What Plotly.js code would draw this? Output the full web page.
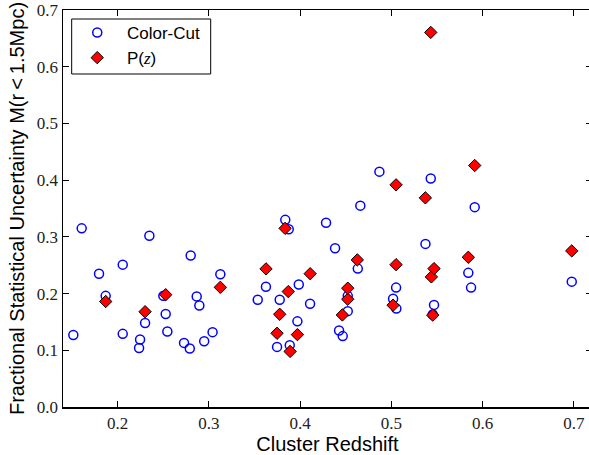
<!DOCTYPE html>
<html>
<head>
<meta charset="utf-8">
<script src="https://cdn.plot.ly/plotly-3.0.1.min.js"></script>
<style>html,body{margin:0;padding:0;overflow:hidden;background:#fff;}</style>
</head>
<body>
<div id="chart"></div>
<script>
// Color-Cut sample
const ccRedshift = [0.1513,0.1605,0.1795,0.1868,0.2055,0.2055,0.2234,0.2245,0.230,0.2347,
  0.250,0.2526,0.2544,0.2727,0.279,0.280,0.2866,0.2895,0.2948,0.304,
  0.3125,0.3535,0.3625,0.3747,0.3776,0.3837,0.3875,0.3886,0.397,0.3985,
  0.4109,0.4284,0.4383,0.4427,0.4467,0.4522,0.4522,0.4632,0.466,0.4869,
  0.5019,0.5052,0.5055,0.5374,0.5432,0.5468,0.5454,0.5844,0.5874,0.5914,0.6978];
const ccUncert = [0.127,0.315,0.235,0.196,0.251,0.129,0.104,0.119,0.148,0.302,
  0.196,0.164,0.133,0.113,0.103,0.267,0.195,0.179,0.116,0.132,
  0.234,0.189,0.212,0.106,0.189,0.330,0.3135,0.109,0.151,0.216,
  0.182,0.325,0.280,0.135,0.125,0.169,0.196,0.244,0.355,0.415,
  0.191,0.2105,0.1735,0.2876,0.403,0.180,0.163,0.2365,0.2105,0.3524,0.221];
// P(z) sample
const pzRedshift = [0.1868,0.230,0.2526,0.3125,0.3626,0.3747,0.3776,0.3835,0.387,0.389,
  0.397,0.411,0.4463,0.4522,0.4522,0.4627,0.5019,0.5052,0.5052,0.5373,
  0.5432,0.5439,0.5454,0.5468,0.5844,0.5914,0.6978];
const pzUncert = [0.186,0.168,0.198,0.211,0.2435,0.130,0.1635,0.315,0.2035,0.098,
  0.1276,0.235,0.1623,0.190,0.2095,0.2594,0.1795,0.3917,0.251,0.3688,
  0.6605,0.2294,0.162,0.244,0.264,0.4258,0.2753];
const seriesNames = ['\u00a0Color-Cut', '\u00a0P(<span style="font-family:Liberation Serif"><i>z</i></span>)'];
const xTicks = [0.2,0.3,0.4,0.5,0.6,0.7];
const yTicks = [0.0,0.1,0.2,0.3,0.4,0.5,0.6,0.7];

const traces = [
  {x: ccRedshift, y: ccUncert, mode: 'markers', type: 'scatter', name: seriesNames[0],
   marker: {symbol: 'circle-open', size: 9, color: '#0000ff', line: {width: 1.5, color: '#0000ff'}}},
  {x: pzRedshift, y: pzUncert, mode: 'markers', type: 'scatter', name: seriesNames[1],
   marker: {symbol: 'diamond', size: 9.5, color: '#ff0000', line: {width: 1, color: '#000000'}}}
];
const tickFont = {family: 'Liberation Serif, DejaVu Serif, serif', size: 17, color: '#222'};
const sans = 'Liberation Sans, Arial, sans-serif';
const layout = {
  width: 592, height: 455,
  margin: {l: 63, r: 0, t: 10, b: 48},
  paper_bgcolor: '#fff', plot_bgcolor: '#fff',
  showlegend: true,
  legend: {x: 0.0175, y: 0.9874, xanchor: 'left', yanchor: 'top', borderwidth: 0,
           itemwidth: 40, bgcolor: 'rgba(0,0,0,0)', font: {family: sans, size: 17, color: '#000'}},
  shapes: [{type: 'rect', xref: 'paper', yref: 'paper', x0: 0.0164, x1: 0.2792, y0: 0.8388, y1: 0.9773,
            line: {color: '#000', width: 1}, fillcolor: '#fff', layer: 'above'}],
  xaxis: {range: [0.14, 0.72], tickvals: xTicks, ticktext: xTicks.map(v => v.toFixed(1)),
          ticks: 'inside', ticklen: 6, tickwidth: 1, tickcolor: '#000',
          showline: true, linecolor: '#000', linewidth: 1.5, mirror: 'ticks', showgrid: false, zeroline: false,
          tickfont: tickFont,
          title: {text: 'Cluster Redshift', font: {family: sans, size: 20, color: '#000'}, standoff: 0}},
  yaxis: {range: [0, 0.7], tickvals: yTicks, ticktext: yTicks.map(v => v.toFixed(1)),
          ticks: 'inside', ticklen: 6, tickwidth: 1, tickcolor: '#000',
          showline: true, linecolor: '#000', linewidth: 1.5, mirror: 'ticks', showgrid: false, zeroline: false,
          tickfont: tickFont,
          title: {text: 'Fractional Statistical Uncertainty M(r\u2009<\u20091.5Mpc)', font: {family: sans, size: 20, color: '#000'}, standoff: 7}}
};
Plotly.newPlot('chart', traces, layout, {displayModeBar: false, staticPlot: true});
</script>
</body>
</html>
